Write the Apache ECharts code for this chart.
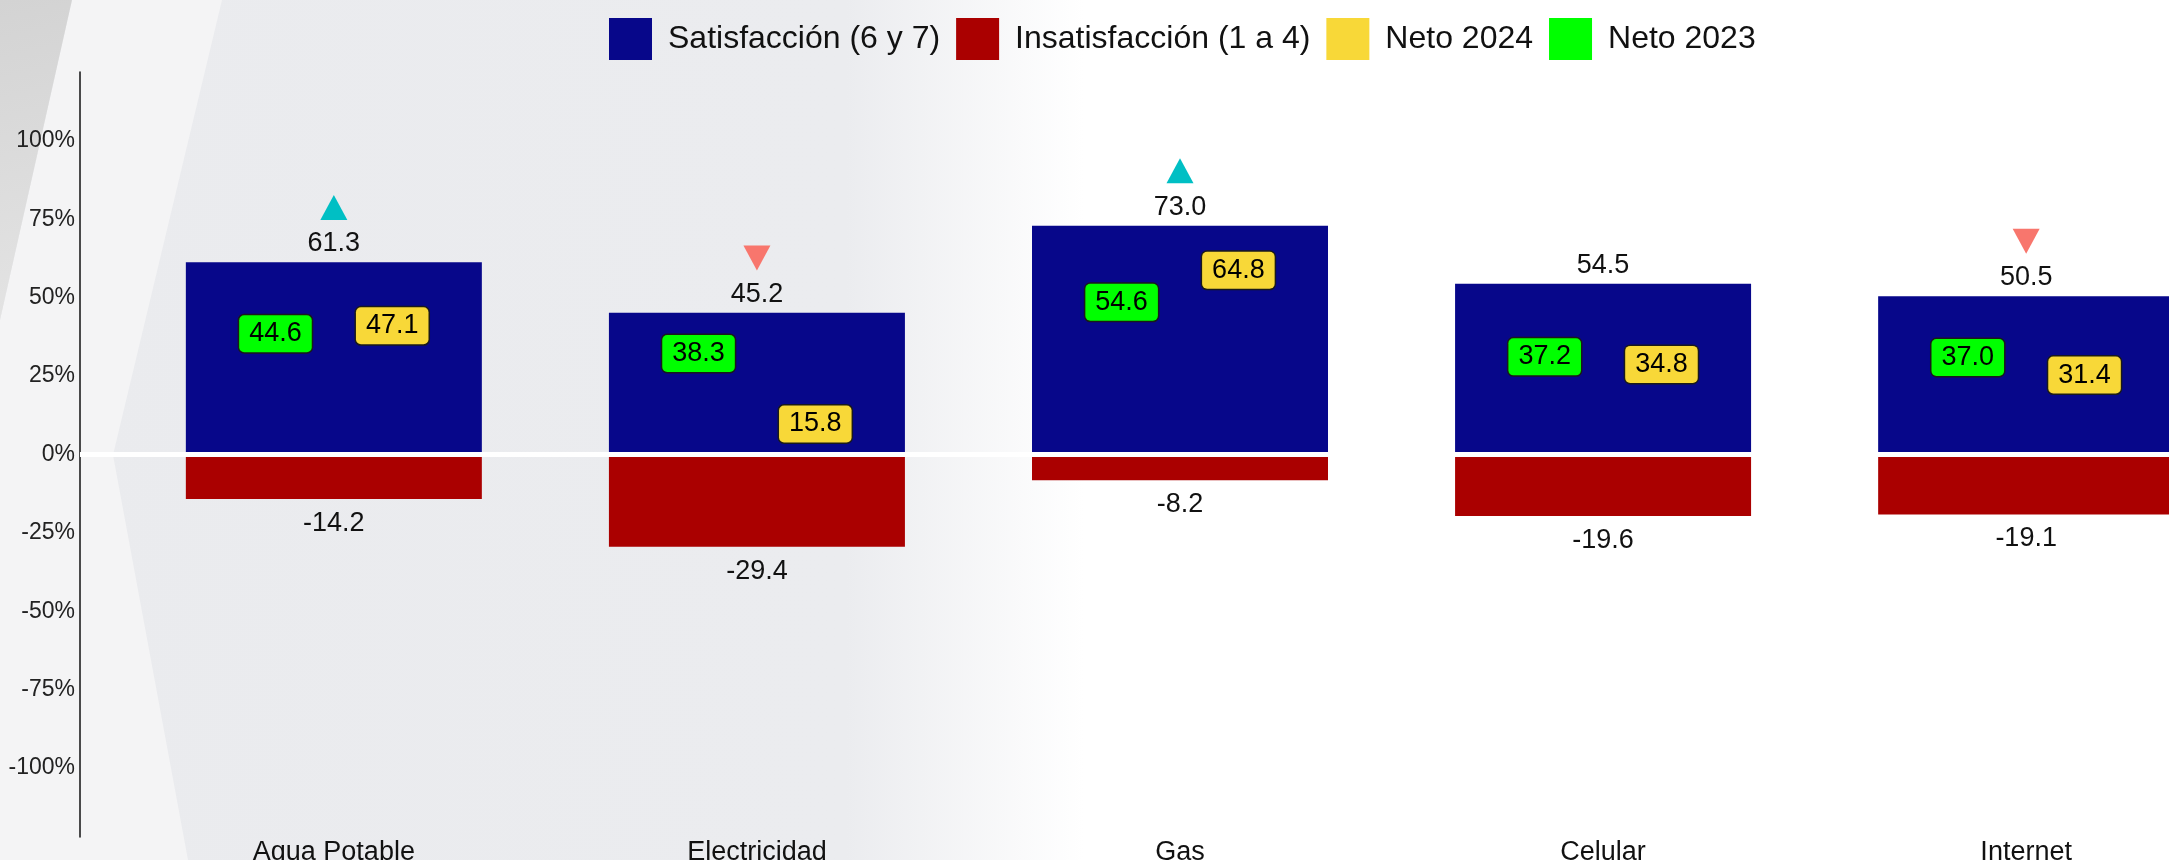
<!DOCTYPE html>
<html>
<head>
<meta charset="utf-8">
<title>Satisfacción servicios básicos</title>
<script src="https://cdn.jsdelivr.net/npm/echarts@6.0.0/dist/echarts.min.js"></script>
<style>
html, body { margin: 0; padding: 0; }
body { background: linear-gradient(to right, #EAEBEE 0%, #EBECEF 39%, #FFFFFF 50%, #FFFFFF 100%); }
#chart { width: 2169px; height: 860px; }
</style>
</head>
<body>
<div id="chart"></div>
<script>
var categorias = ['Agua Potable', 'Electricidad', 'Gas', 'Celular', 'Internet'];
var satisfaccion = [61.3, 45.2, 73.0, 54.5, 50.5];
var insatisfaccion = [-14.2, -29.4, -8.2, -19.6, -19.1];
var neto2024 = [47.1, 15.8, 64.8, 34.8, 31.4];
var neto2023 = [44.6, 38.3, 54.6, 37.2, 37.0];
var cambio = ['up', 'down', 'up', null, 'down'];
var ticksY = [-100, -75, -50, -25, 0, 25, 50, 75, 100];

var fuente = "'Liberation Sans', Arial, sans-serif";
var nudge = 0.138;   // desplazamiento horizontal de las etiquetas neto
var alturaFlecha = 17.5;

function uno(v){ return v.toFixed(1); }

var flechas = [];
cambio.forEach(function(c, i){
	if(!c) return;
	flechas.push({
		value: [i + 1, satisfaccion[i] + alturaFlecha],
		symbolRotate: c == 'down' ? 180 : 0,
		itemStyle: { color: c == 'up' ? '#00BFC4' : '#F8766D', opacity: 1 }
	});
});

function cajaNeto(color){
	return {
		show: true,
		position: 'bottom',
		distance: 0,
		formatter: function(p){ return uno(p.value[1]); },
		backgroundColor: color,
		borderColor: '#1a1a1a',
		borderWidth: 1.5,
		borderRadius: 5,
		padding: [4, 10],
		fontSize: 27,
		lineHeight: 29,
		fontFamily: fuente,
		color: '#000'
	};
}

var myChart = echarts.init(document.getElementById('chart'));
myChart.setOption({
	animation: false,
	textStyle: { fontFamily: fuente },
	graphic: [
		{
			type: 'polygon', z: -10, silent: true,
			shape: { points: [[72, 0], [222, 0], [113, 455], [188, 860], [0, 860], [0, 320]] },
			style: { fill: '#F4F4F5' }
		},
		{
			type: 'polygon', z: -9, silent: true,
			shape: { points: [[0, 0], [72, 0], [0, 320]] },
			style: {
				fill: new echarts.graphic.LinearGradient(0, 0, 1, 1, [
					{ offset: 0, color: '#D3D3D3' },
					{ offset: 1, color: '#E4E4E4' }
				])
			}
		}
	],
	legend: {
		left: 604,
		top: 13,
		icon: 'rect',
		itemWidth: 43,
		itemHeight: 42,
		itemGap: 16,
		data: [
			{ name: 'Satisfacción (6 y 7)', itemStyle: { color: '#07078A' } },
			{ name: 'Insatisfacción (1 a 4)', itemStyle: { color: '#AA0000' } },
			{ name: 'Neto 2024', itemStyle: { color: '#F8D838' } },
			{ name: 'Neto 2023', itemStyle: { color: '#00FF00' } }
		],
		textStyle: { fontSize: 32, color: '#111', fontFamily: fuente, padding: [0, 0, 0, 11] }
	},
	grid: {
		left: 80,
		top: 72,
		width: 2200,
		height: 765,
		outerBoundsMode: 'none'
	},
	xAxis: {
		type: 'value',
		min: 0.4,
		max: 5.6,
		axisLine: { show: false, onZero: false },
		axisTick: { show: false },
		splitLine: { show: false },
		axisLabel: {
			customValues: [1, 2, 3, 4, 5],
			formatter: function(v){ return categorias[Math.round(v) - 1]; },
			fontSize: 27,
			margin: 2,
			color: '#111'
		}
	},
	yAxis: {
		type: 'value',
		min: -122,
		max: 122,
		axisLine: { show: true, lineStyle: { color: '#111', width: 1.5 } },
		axisTick: { show: false },
		splitLine: { show: false },
		axisLabel: {
			customValues: ticksY,
			formatter: function(v){ return v + '%'; },
			fontSize: 23,
			margin: 5,
			color: '#222'
		}
	},
	series: [
		{
			name: 'Satisfacción (6 y 7)',
			type: 'bar',
			barWidth: 296,
			barGap: '-100%',
			data: satisfaccion.map(function(v, i){ return [i + 1, v]; }),
			itemStyle: { color: '#07078A' },
			label: {
				show: true, position: 'top', distance: 5,
				formatter: function(p){ return uno(p.value[1]); },
				fontSize: 27, color: '#111'
			},
			markLine: {
				silent: true,
				symbol: ['none', 'none'],
				label: { show: false },
				lineStyle: { color: '#FFFFFF', width: 5, type: 'solid' },
				data: [{ yAxis: 0 }]
			}
		},
		{
			name: 'Insatisfacción (1 a 4)',
			type: 'bar',
			barWidth: 296,
			barGap: '-100%',
			data: insatisfaccion.map(function(v, i){ return [i + 1, v]; }),
			itemStyle: { color: '#AA0000' },
			label: {
				show: true, position: 'bottom', distance: 11,
				formatter: function(p){ return uno(p.value[1]); },
				fontSize: 27, color: '#111'
			}
		},
		{
			name: 'Neto 2024',
			type: 'scatter',
			z: 5,
			symbolSize: 1,
			data: neto2024.map(function(v, i){ return [i + 1 + nudge, v]; }),
			itemStyle: { color: '#F8D838', opacity: 1 },
			label: cajaNeto('#F8D838')
		},
		{
			name: 'Neto 2023',
			type: 'scatter',
			z: 5,
			symbolSize: 1,
			data: neto2023.map(function(v, i){ return [i + 1 - nudge, v]; }),
			itemStyle: { color: '#00FF00', opacity: 1 },
			label: cajaNeto('#00FF00')
		},
		{
			name: 'Cambio',
			type: 'scatter',
			z: 5,
			symbol: 'triangle',
			symbolSize: [27, 25],
			itemStyle: { opacity: 1 },
			data: flechas
		}
	]
});
</script>
</body>
</html>
